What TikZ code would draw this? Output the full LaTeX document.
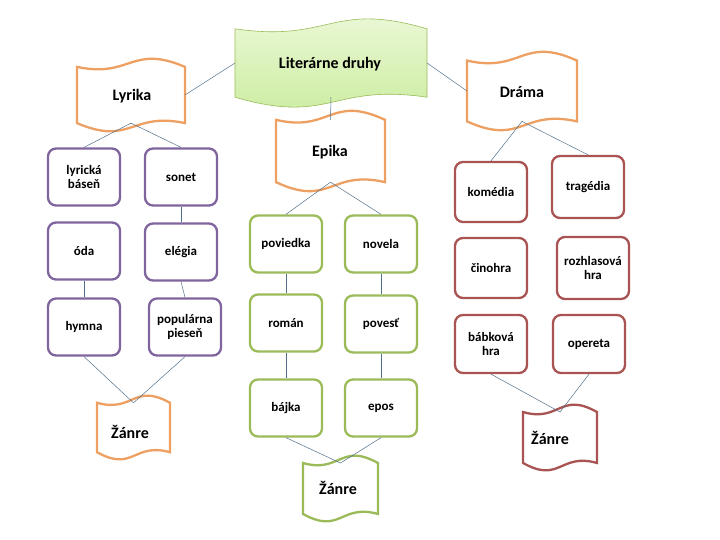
\documentclass[tikz,border=0pt]{standalone}
\usepackage{fontspec}
\setmainfont{Carlito}
\definecolor{cor}{HTML}{EDA062}
\definecolor{cpu}{HTML}{7F649E}
\definecolor{cgr}{HTML}{9BBB59}
\definecolor{cre}{HTML}{A95452}
\definecolor{cln}{HTML}{52708A}
\definecolor{gtop}{HTML}{EEF9DC}
\definecolor{gbot}{HTML}{C9EC9C}
\newcommand\wavebanner[7]{% name,x0,y0,x1,y1,color,extra
  \pgfmathsetmacro\wm{(#2+#4)/2}\pgfmathsetmacro\hh{(#5-#3)*0.12}
  \draw[#6,#7] (#2,#3+\hh) .. controls (\wm,#3+2.3*\hh) and (\wm,#3-1.6*\hh) .. (#4,#3+\hh)
     -- (#4,#5-\hh) .. controls (\wm,#5-2.3*\hh) and (\wm,#5+1.6*\hh) .. (#2,#5-\hh) -- cycle;
  \coordinate (#1-w) at (#2,{(#3+#5)/2});
  \coordinate (#1-e) at (#4,{(#3+#5)/2});
  \coordinate (#1-t) at (\wm,#3+\hh);
  \coordinate (#1-b) at (\wm,#5-\hh);
}
\tikzset{
  bx/.style={draw=#1,line width=2.3pt,rounded corners=8pt,minimum width=72pt,minimum height=57pt,align=center,font=\bfseries\fontsize{13}{14}\selectfont,inner sep=1pt},
  ban/.style={draw=cor,line width=2.3pt,fill=white},
  lab/.style={font=\bfseries\fontsize{16}{17}\selectfont},
  ln/.style={draw=cln,line width=0.5pt},
}
\begin{document}
\begin{tikzpicture}[x=1pt,y=-1pt]
\useasboundingbox (0,0) rectangle (720,540);
% banners
\wavebanner{lit}{235}{18}{427}{108}{draw=cgr,line width=0.6pt}{top color=gtop,bottom color=gbot}
\wavebanner{lyr}{77}{58}{185}{132}{ban}{}
\wavebanner{dra}{467}{51}{577}{131}{ban}{}
\wavebanner{epi}{276}{110}{385}{192}{ban}{}
\wavebanner{z1}{97}{395}{170}{460}{ban}{}
\wavebanner{z2}{303}{455}{378}{522}{draw=cgr,line width=2.3pt,fill=white}{}
\wavebanner{z3}{523}{404}{597}{471}{draw=cre,line width=2.3pt,fill=white}{}
\node[lab] (tlit) at (330,64) {Literárne druhy};
\node[lab] (tlyr) at (132,96) {Lyrika};
\node[lab] (tdra) at (522,92) {Dráma};
\node[lab] (tepi) at (330,152) {Epika};
\node[lab] (tz1) at (130,432) {Žánre};
\node[lab] (tz2) at (338,488) {Žánre};
\node[lab] (tz3) at (550,438) {Žánre};
% boxes
\node[bx=cpu] (lb) at (84,177) {lyrická\\báseň};
\node[bx=cpu] (so) at (181,177) {sonet};
\node[bx=cpu] (od) at (84,251) {óda};
\node[bx=cpu] (el) at (181,252) {elégia};
\node[bx=cpu] (hy) at (84,327) {hymna};
\node[bx=cpu] (po) at (185,327) {populárna\\pieseň};
\node[bx=cgr] (pv) at (286,244) {poviedka};
\node[bx=cgr] (nv) at (381,244) {novela};
\node[bx=cgr] (ro) at (286,323) {román};
\node[bx=cgr] (ps) at (381,324) {povesť};
\node[bx=cgr] (ba) at (286,408) {bájka};
\node[bx=cgr] (ep) at (381,408) {epos};
\node[bx=cre,minimum height=60pt] (ko) at (491,192) {komédia};
\node[bx=cre,minimum height=62pt] (tr) at (588,187) {tragédia};
\node[bx=cre,minimum height=60pt] (ci) at (491,268) {činohra};
\node[bx=cre,minimum height=62pt] (rh) at (593,268) {rozhlasová\\hra};
\node[bx=cre,minimum height=58pt] (bk) at (491,344) {bábková\\hra};
\node[bx=cre,minimum height=58pt] (op) at (589,344) {opereta};
% connectors
\draw[ln] (lit-w) -- (lyr-e);
\draw[ln] (lit-e) -- (dra-w);
\draw[ln] (lit-b) -- (epi-t);
\draw[ln] (lyr-b) -- (lb.north);
\draw[ln] (lyr-b) -- (so.north);
\draw[ln] (so.south) -- (el.north);
\draw[ln] (od.south) -- (hy.north);
\draw[ln] (el.south) -- (po.north);
\draw[ln] (hy.south) -- (z1-t);
\draw[ln] (po.south) -- (z1-t);
\draw[ln] (epi-b) -- (pv.north);
\draw[ln] (epi-b) -- (nv.north);
\draw[ln] (pv.south) -- (ro.north);
\draw[ln] (ro.south) -- (ba.north);
\draw[ln] (nv.south) -- (ps.north);
\draw[ln] (ps.south) -- (ep.north);
\draw[ln] (ba.south) -- (z2-t);
\draw[ln] (ep.south) -- (z2-t);
\draw[ln] (dra-b) -- (ko.north);
\draw[ln] (dra-b) -- (tr.north);
\draw[ln] (bk.south) -- (z3-t);
\draw[ln] (op.south) -- (z3-t);
\end{tikzpicture}
\end{document}
